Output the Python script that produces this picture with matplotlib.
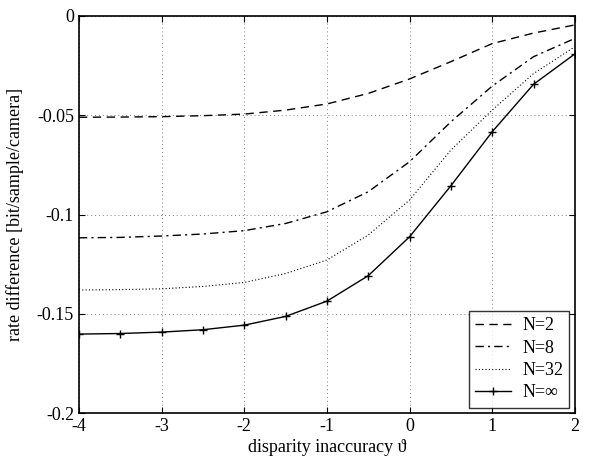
import numpy as np
import matplotlib.pyplot as plt

plt.rcParams['font.family'] = ['Liberation Serif', 'DejaVu Serif']
plt.rcParams['axes.unicode_minus'] = False

x = np.arange(-4, 2.01, 0.5)
n2 = [-0.0510, -0.0509, -0.0507, -0.0502, -0.0494, -0.0474, -0.0443, -0.0390,
      -0.0317, -0.0230, -0.0139, -0.0086, -0.0045]
n8 = [-0.1117, -0.1115, -0.1108, -0.1098, -0.1081, -0.1045, -0.0986, -0.0885,
      -0.0734, -0.0533, -0.0353, -0.0205, -0.0113]
n32 = [-0.1380, -0.1378, -0.1374, -0.1362, -0.1342, -0.1297, -0.1229, -0.1103,
       -0.0927, -0.0675, -0.0474, -0.0290, -0.0155]
ninf = [-0.1602, -0.1599, -0.1592, -0.1580, -0.1557, -0.1513, -0.1436, -0.1308,
        -0.1112, -0.0855, -0.0583, -0.0344, -0.0191]

fig = plt.figure(figsize=(5.89, 4.57), dpi=100)
ax = fig.add_axes([0.134, 0.096, 0.842, 0.869])

ax.plot(x, n2, color='black', linestyle=(0, (6, 4)), linewidth=1, label='N=2')
ax.plot(x, n8, color='black', linestyle=(0, (6, 3, 1.5, 3)), linewidth=1, label='N=8')
ax.plot(x, n32, color='black', linestyle=(0, (1, 2)), linewidth=0.8, label='N=32')
ax.plot(x, ninf, color='black', linestyle='-', linewidth=1, marker='+',
        markersize=6, markeredgewidth=1, label='N=∞')

ax.set_xlim(-4, 2)
ax.set_ylim(-0.2, 0)
ax.set_xticks([-4, -3, -2, -1, 0, 1, 2])
ax.set_yticks([-0.2, -0.15, -0.1, -0.05, 0])
ax.set_yticklabels(['-0.2', '-0.15', '-0.1', '-0.05', '0'])
ax.grid(True, color='#808080', linestyle=(0, (1, 3)), linewidth=0.7)
ax.tick_params(direction='in', length=4, labelsize=13, top=True, right=True)
for s in ax.spines.values():
    s.set_linewidth(1.2)

ax.set_xlabel('disparity inaccuracy ϑ', fontsize=13, labelpad=3)
ax.set_ylabel('rate difference [bit/sample/camera]', fontsize=13, labelpad=9)

leg = ax.legend(loc='lower right', fontsize=13, frameon=True, fancybox=False,
                edgecolor='black', handlelength=2.0, borderaxespad=0.3,
                labelspacing=0.3, handletextpad=0.6, borderpad=0.35)
leg.get_frame().set_linewidth(1)

fig.savefig('out.png', dpi=100)
